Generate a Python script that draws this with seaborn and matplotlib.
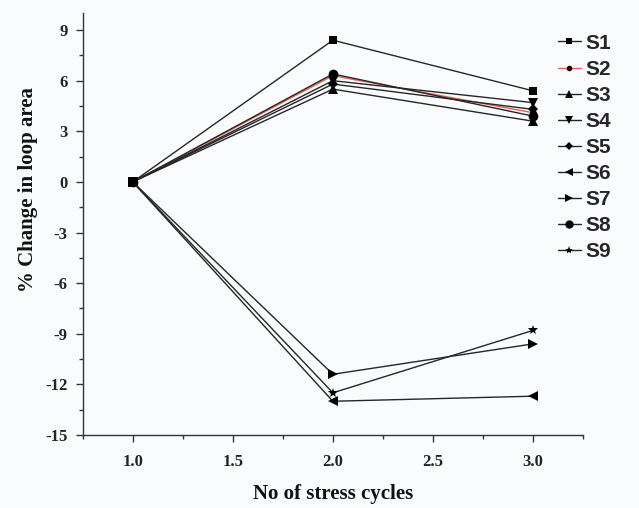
import matplotlib
matplotlib.use("Agg")
import matplotlib.pyplot as plt
import seaborn as sns
import pandas as pd
from matplotlib.ticker import MultipleLocator

cycles = [1.0, 2.0, 3.0]
series_names = ["S1", "S2", "S3", "S4", "S5", "S6", "S7", "S8", "S9"]
S1 = [0.0, 8.4, 5.4]
S2 = [0.0, 6.3, 4.1]
S3 = [0.0, 5.5, 3.6]
S4 = [0.0, 6.0, 4.7]
S5 = [0.0, 5.8, 4.3]
S6 = [0.0, -13.0, -12.7]
S7 = [0.0, -11.4, -9.6]
S8 = [0.0, 6.4, 3.9]
S9 = [0.0, -12.5, -8.8]
values = [S1, S2, S3, S4, S5, S6, S7, S8, S9]

rows = []
for name, vals in zip(series_names, values):
    for c, v in zip(cycles, vals):
        rows.append({"cycles": c, "change": v, "sample": name})
df = pd.DataFrame(rows)

sns.set_style("ticks")
plt.rcParams["axes.unicode_minus"] = False
bg = "#fafbfd"
fig = plt.figure(figsize=(6.39, 5.08), dpi=100, facecolor=bg)
ax = fig.add_axes([0.1294, 0.1437, 0.9124 - 0.1294, 0.974 - 0.1437])
ax.set_facecolor(bg)

dark = "#262626"
palette = {n: dark for n in series_names}
palette["S2"] = "#e8604c"
markers = {"S1": "s", "S2": "o", "S3": "^", "S4": "v", "S5": "D",
           "S6": "<", "S7": ">", "S8": "o", "S9": "*"}
sizes_m = {"S1": 6, "S2": 5, "S3": 7, "S4": 7, "S5": 5,
           "S6": 7, "S7": 7, "S8": 7, "S9": 7}

sns.lineplot(data=df, x="cycles", y="change", hue="sample", style="sample",
             palette=palette, markers=markers, dashes=False, linewidth=1.0,
             markersize=7, markeredgewidth=0, ax=ax, legend=True)

for name, line in zip(series_names, ax.get_lines()[:9]):
    line.set_markersize(sizes_m[name])
    line.set_markerfacecolor("black")
    line.set_markeredgecolor("black")

ax.set_xlim(0.75, 3.25)
ax.set_ylim(-15, 10)
ax.xaxis.set_major_locator(MultipleLocator(0.5))
ax.xaxis.set_minor_locator(MultipleLocator(0.25))
ax.yaxis.set_major_locator(MultipleLocator(3))
ax.yaxis.set_minor_locator(MultipleLocator(1.5))
ax.set_yticks([-15, -12, -9, -6, -3, 0, 3, 6, 9])
ax.set_xticks([1.0, 1.5, 2.0, 2.5, 3.0])

for side in ["top", "right"]:
    ax.spines[side].set_visible(False)
for side in ["left", "bottom"]:
    ax.spines[side].set_color("#333333")
    ax.spines[side].set_linewidth(1.0)
ax.tick_params(axis="both", which="major", length=5, width=1, color="#333333",
               direction="out", pad=6)
ax.tick_params(axis="x", which="major", pad=9)
ax.tick_params(axis="both", which="minor", length=3, width=1, color="#333333",
               direction="out")

serif = ["Liberation Serif", "DejaVu Serif"]
for lbl in ax.get_xticklabels() + ax.get_yticklabels():
    lbl.set_family(serif)
    lbl.set_fontweight("bold")
    lbl.set_fontsize(12)
    lbl.set_color("#222222")

ax.set_xlabel("No of stress cycles", family=serif, fontweight="bold",
              fontsize=15, color="#111111", labelpad=10)
ax.set_ylabel("% Change in loop area", family=serif, fontweight="bold",
              fontsize=15, color="#111111")
ax.yaxis.set_label_coords(-0.09, 0.583)

handles, labels = ax.get_legend_handles_labels()
for h, name in zip(handles, labels):
    if name in sizes_m:
        h.set_markersize(sizes_m[name] - 1)
        h.set_markerfacecolor("black")
        h.set_markeredgecolor("black")
leg = ax.legend(handles, labels, loc="upper left", bbox_to_anchor=(0.86, 0.95),
                bbox_transform=fig.transFigure, frameon=False,
                prop={"family": ["Liberation Sans", "DejaVu Sans"], "weight": "bold", "size": 15},
                handlelength=1.1, handletextpad=0.2, labelspacing=0.34,
                borderaxespad=0, numpoints=1)

fig.savefig("out.png", dpi=100, facecolor=bg)
